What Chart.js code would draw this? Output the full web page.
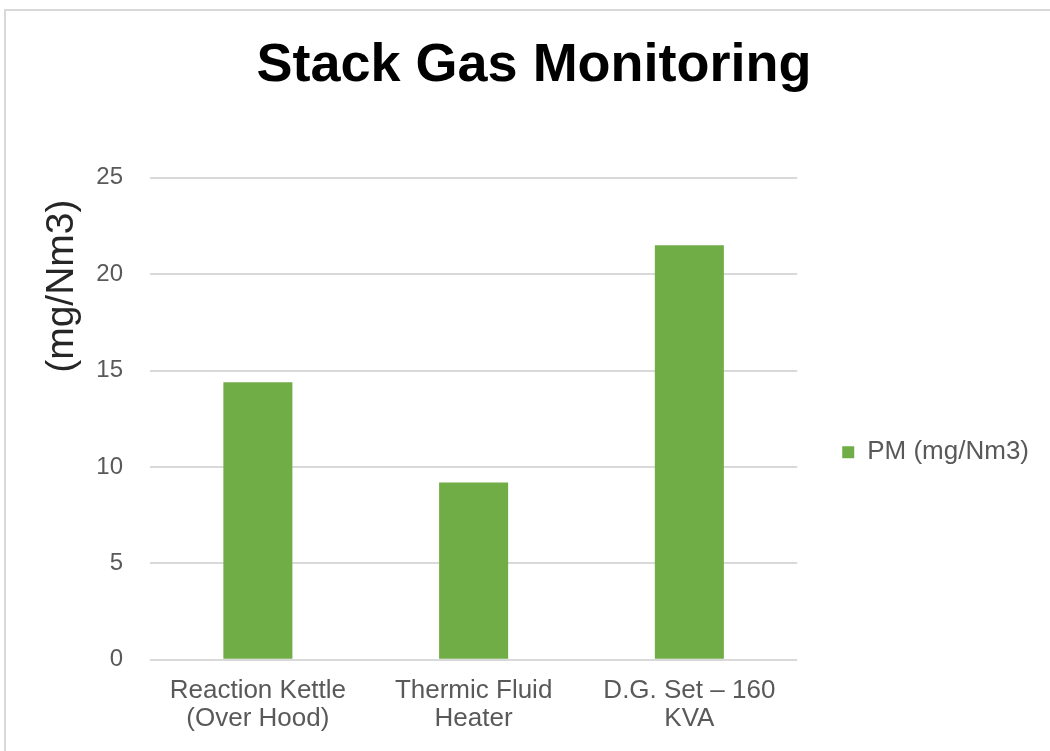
<!DOCTYPE html>
<html>
<head>
<meta charset="utf-8">
<script src="https://cdn.jsdelivr.net/npm/chart.js@4/dist/chart.umd.min.js"></script>
<style>
    html, body { margin: 0; padding: 0; background: #fff; }
    #frame {
        position: absolute; left: 4px; top: 9px;
        width: 1100px; height: 800px;
        border: 2px solid #d9d9d9;
    }
    #stackChart { position: absolute; left: 0; top: 0; }
</style>
</head>
<body>
<div id="frame"></div>
<canvas id="stackChart" width="1050" height="751"></canvas>
<script>
// Chart data
const categories = [
    ['Reaction Kettle', '(Over Hood)'],
    ['Thermic Fluid', 'Heater'],
    ['D.G. Set – 160', 'KVA']
];
const pmValues = [14.4, 9.2, 21.5];
const seriesName = 'PM (mg/Nm3)';
const yMin = 0;
const yMax = 25;
const yStep = 5;

const fontFamily = '"Liberation Sans", Arial, sans-serif';

document.addEventListener('DOMContentLoaded', () => {
    const ctx = document.getElementById('stackChart').getContext('2d');
    new Chart(ctx, {
        type: 'bar',
        data: {
            labels: categories,
            datasets: [{
                label: seriesName,
                data: pmValues,
                backgroundColor: '#70ad47',
                borderWidth: 0,
                barPercentage: 0.32,
                categoryPercentage: 1
            }]
        },
        options: {
            responsive: false,
            animation: false,
            layout: {
                padding: { top: 10, left: 29, right: 11, bottom: 1 }
            },
            plugins: {
                title: {
                    display: true,
                    text: 'Stack Gas Monitoring',
                    color: '#000',
                    font: { family: fontFamily, size: 54, weight: 'bold', lineHeight: 1.2 },
                    padding: { top: 24, bottom: 79 }
                },
                legend: {
                    position: 'right',
                    fullSize: false,
                    title: {
                        display: true,
                        text: '',
                        font: { size: 10, lineHeight: 1.2 },
                        padding: { top: 55, bottom: 0 }
                    },
                    labels: {
                        color: '#595959',
                        font: { family: fontFamily, size: 26 },
                        boxWidth: 12,
                        boxHeight: 12,
                        padding: 45
                    }
                },
                tooltip: { enabled: false }
            },
            scales: {
                x: {
                    grid: { display: false, drawTicks: false },
                    border: { display: false },
                    ticks: {
                        color: '#595959',
                        font: { family: fontFamily, size: 26, lineHeight: 1.08 },
                        padding: 17,
                        maxRotation: 0,
                        autoSkip: false
                    }
                },
                y: {
                    min: yMin,
                    max: yMax,
                    afterFit: (scale) => { scale.width = 121; },
                    grid: { color: '#d9d9d9', lineWidth: 2, drawTicks: false },
                    border: { display: false },
                    ticks: {
                        stepSize: yStep,
                        color: '#595959',
                        font: { family: fontFamily, size: 24 },
                        padding: 27
                    },
                    title: {
                        display: true,
                        text: '(mg/Nm3)  ',
                        align: 'end',
                        color: '#262626',
                        font: { family: fontFamily, size: 39, lineHeight: 1.2 },
                        padding: { top: 10, bottom: 0 }
                    }
                }
            }
        }
    });
});
</script>
</body>
</html>
